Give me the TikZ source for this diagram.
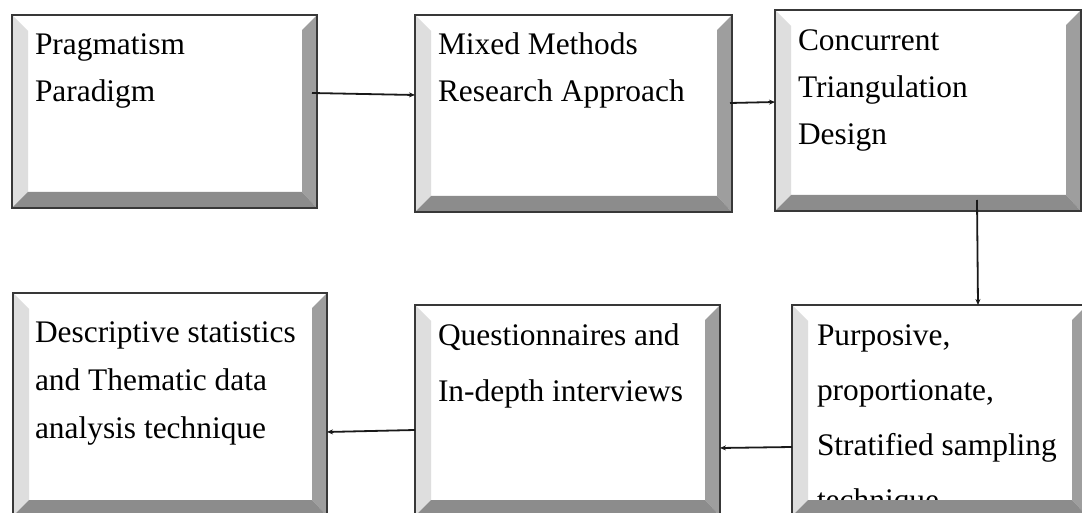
\documentclass[tikz,border=0pt]{standalone}
\usepackage{fontspec}
\setmainfont{Liberation Serif}
\usetikzlibrary{arrows.meta}

% bevelled frame around a box node: light left, mid-grey right, dark bottom
\newcommand\bevelize[1]{%
  \fill[bevL] (#1.north west) -- ([shift={(16,16)}]#1.north west)
      -- ([shift={(16,-16)}]#1.south west) -- (#1.south west) -- cycle;
  \fill[bevR] (#1.north east) -- ([shift={(-15,15)}]#1.north east)
      -- ([shift={(-15,-16)}]#1.south east) -- (#1.south east) -- cycle;
  \fill[bevB] (#1.south west) -- ([shift={(16,-16)}]#1.south west)
      -- ([shift={(-15,-16)}]#1.south east) -- (#1.south east) -- cycle;
  \draw[frame] (#1.north west) rectangle (#1.south east);}

\tikzset{
  panel/.style={draw=none, fill=white, inner sep=0pt, outer sep=0pt},
  bevL/.style={fill=black!13},
  bevR/.style={fill=black!38},
  bevB/.style={fill=black!45},
  frame/.style={draw=black!78, line width=2pt},
  label/.style={anchor=base west, inner sep=0pt, outer sep=0pt, text=black},
  arr/.style={draw=black!90, line width=1.8pt, -{Stealth[length=6pt,width=5pt]}},
}

\newcommand\lines[2]{\fontsize{31.4}{#1}\selectfont\parbox[t]{320pt}{\raggedright #2}}

\begin{document}
\begin{tikzpicture}[x=1pt, y=-1pt]
  \useasboundingbox (0,0) rectangle (1082,513);

  % boxes
  \node[panel, minimum width=305pt, minimum height=193pt] (b1) at (164.5,111.5) {};
  \node[panel, minimum width=317pt, minimum height=197pt] (b2) at (573.5,113.5) {};
  \node[panel, minimum width=306pt, minimum height=201pt] (b3) at (928,110.5) {};
  \node[panel, minimum width=314pt, minimum height=223pt] (b4) at (170,404.5) {};
  \node[panel, minimum width=305pt, minimum height=211pt] (b5) at (567.5,410.5) {};
  \node[panel, minimum width=295pt, minimum height=211pt] (b6) at (939.5,410.5) {};

  % texts
  \node[label] (t1) at (35,55)  {\lines{47}{Pragmatism\\Paradigm}};
  \node[label] (t2) at (438,55) {\lines{47}{Mixed Methods\\Research Approach}};
  \node[label] (t3) at (798,51) {\lines{47}{Concurrent\\Triangulation\\Design}};
  \node[label] (t4) at (35,342) {\lines{48}{Descriptive statistics\\and Thematic data\\analysis technique}};
  \node[label] (t5) at (438,345) {\lines{56}{Questionnaires and\\In-depth interviews}};
  \node[label] (t6) at (817,345) {\lines{55}{Purposive,\\proportionate,\\Stratified sampling\\technique}};

  % bevels and frames
  \bevelize{b1}
  \bevelize{b2}
  \bevelize{b3}
  \bevelize{b4}
  \bevelize{b5}
  \bevelize{b6}

  % connectors
  \draw[arr] ([shift={(-5,-18.5)}]b1.east) -- ([shift={(0,-18.5)}]b2.west);
  \draw[arr] ([shift={(-2,-10.5)}]b2.east) -- ([shift={(0,-8.5)}]b3.west);
  \draw[arr] ([shift={(49,-11)}]b3.south) -- ([shift={(38.5,0)}]b6.north);
  \draw[arr] ([shift={(0,36.5)}]b6.west) -- ([shift={(0,37.5)}]b5.east);
  \draw[arr] ([shift={(0,19.5)}]b5.west) -- ([shift={(0,27.5)}]b4.east);
\end{tikzpicture}
\end{document}
